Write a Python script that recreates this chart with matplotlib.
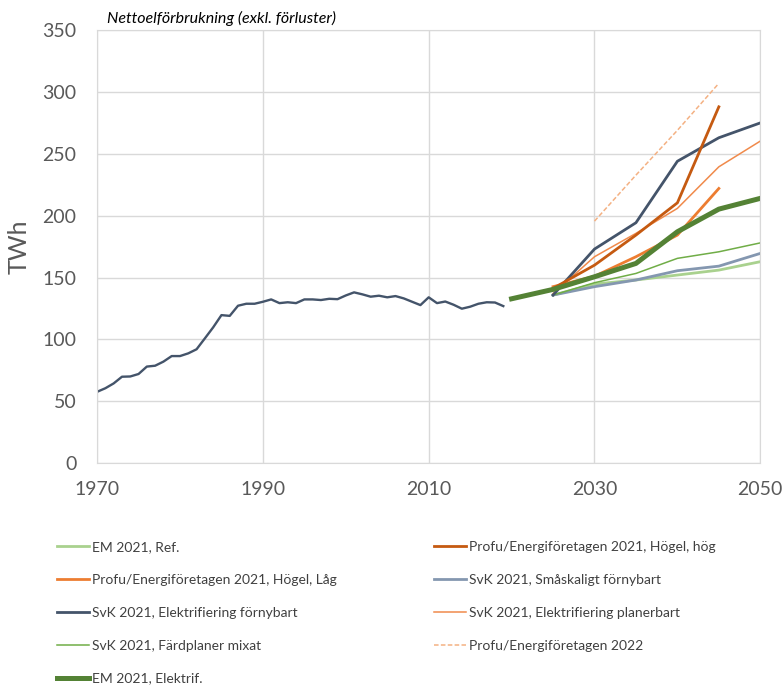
import numpy as np
import matplotlib.pyplot as plt

plt.rcParams['font.family'] = ['Lato', 'DejaVu Sans']

# historisk nettoelförbrukning
hist_years = list(range(1970, 2020))
hist_twh = [57.6, 60.5, 64.4, 69.8, 70.0, 72.0, 78.0, 78.7, 82.0, 86.5,
            86.5, 88.7, 92.0, 100.8, 109.7, 119.6, 119.0, 127.2, 128.8, 128.8,
            130.4, 132.3, 129.3, 130.0, 129.3, 132.3, 132.3, 131.8, 132.8, 132.5,
            135.5, 138.0, 136.4, 134.5, 135.3, 134.0, 135.0, 133.1, 130.4, 127.7,
            134.0, 129.3, 130.6, 128.0, 124.8, 126.4, 128.8, 130.0, 129.8, 126.9]

yrs_25 = [2025, 2030, 2035, 2040, 2045, 2050]
yrs_25_45 = [2025, 2030, 2035, 2040, 2045]
yrs_20 = [2020, 2025, 2030, 2035, 2040, 2045, 2050]
yrs_30_45 = [2030, 2035, 2040, 2045]

em_ref = [135.8, 144.7, 148.0, 152.0, 156.0, 162.8]
profu_hog = [141.2, 160.0, 184.3, 210.4, 288.0]
profu_lag = [142.6, 151.0, 166.8, 184.3, 222.0]
svk_small = [135.8, 142.6, 148.0, 155.5, 159.2, 169.5]
svk_el_fb = [135.8, 173.0, 194.3, 244.0, 263.0, 275.0]
svk_el_pl = [137.0, 166.8, 185.7, 205.9, 239.5, 260.3]
svk_fard = [135.8, 145.8, 153.3, 165.5, 170.8, 178.0]
profu_2022 = [195.6, 232.8, 269.0, 307.0]
em_elektrif = [132.8, 140.4, 150.6, 161.4, 187.0, 205.3, 214.0]

fig = plt.figure(figsize=(7.83, 6.85), dpi=100)
ax = fig.add_axes([0.124, 0.324, 0.847, 0.632])

ax.plot(hist_years, hist_twh, color='#44546A', lw=1.7)

h = {}
h['em_ref'], = ax.plot(yrs_25, em_ref, color='#A9D18E', lw=2.0, label='EM 2021, Ref.')
h['svk_small'], = ax.plot(yrs_25, svk_small, color='#8497B0', lw=2.0, label='SvK 2021, Småskaligt förnybart')
h['svk_fard'], = ax.plot(yrs_25, svk_fard, color='#70AD47', lw=1.1, label='SvK 2021, Färdplaner mixat')
h['svk_el_pl'], = ax.plot(yrs_25, svk_el_pl, color='#F08A4B', lw=1.1, label='SvK 2021, Elektrifiering planerbart')
h['svk_el_fb'], = ax.plot(yrs_25, svk_el_fb, color='#44546A', lw=2.0, label='SvK 2021, Elektrifiering förnybart')
h['profu_lag'], = ax.plot(yrs_25_45, profu_lag, color='#ED7D31', lw=2.0, label='Profu/Energiföretagen 2021, Högel, Låg')
h['profu_hog'], = ax.plot(yrs_25_45, profu_hog, color='#C55A11', lw=2.0, label='Profu/Energiföretagen 2021, Högel, hög')
h['profu_2022'], = ax.plot(yrs_30_45, profu_2022, color='#F4B183', lw=1.1, ls=(0, (3, 1.5)), label='Profu/Energiföretagen 2022')
h['em_elektrif'], = ax.plot(yrs_20, em_elektrif, color='#548235', lw=3.6, label='EM 2021, Elektrif.')

ax.set_xlim(1970, 2050)
ax.set_ylim(0, 350)
ax.set_xticks([1970, 1990, 2010, 2030, 2050])
ax.set_yticks(np.arange(0, 351, 50))
ax.grid(True, color='#D9D9D9', lw=1.0)
ax.set_axisbelow(True)
for s in ax.spines.values():
    s.set_color('#D9D9D9')
ax.tick_params(length=0, labelsize=14, labelcolor='#595959')
ax.tick_params(axis='x', pad=13)
ax.tick_params(axis='y', pad=15)
ax.set_ylabel('TWh', fontsize=18, color='#595959', labelpad=8)

fig.text(0.137, 0.966, 'Nettoelförbrukning (exkl. förluster)', fontsize=11.5,
         style='italic', color='#000000')

order = ['em_ref', 'profu_lag', 'svk_el_fb', 'svk_fard', 'em_elektrif',
         'profu_hog', 'svk_small', 'svk_el_pl', 'profu_2022']
fig.legend([h[k] for k in order], [h[k].get_label() for k in order],
           loc='upper left', bbox_to_anchor=(0.057, 0.228), ncol=2,
           frameon=False, fontsize=10, labelcolor='#404040',
           handlelength=2.3, handletextpad=0.2, columnspacing=7.0,
           labelspacing=1.5)

fig.savefig('out.png', dpi=100)
